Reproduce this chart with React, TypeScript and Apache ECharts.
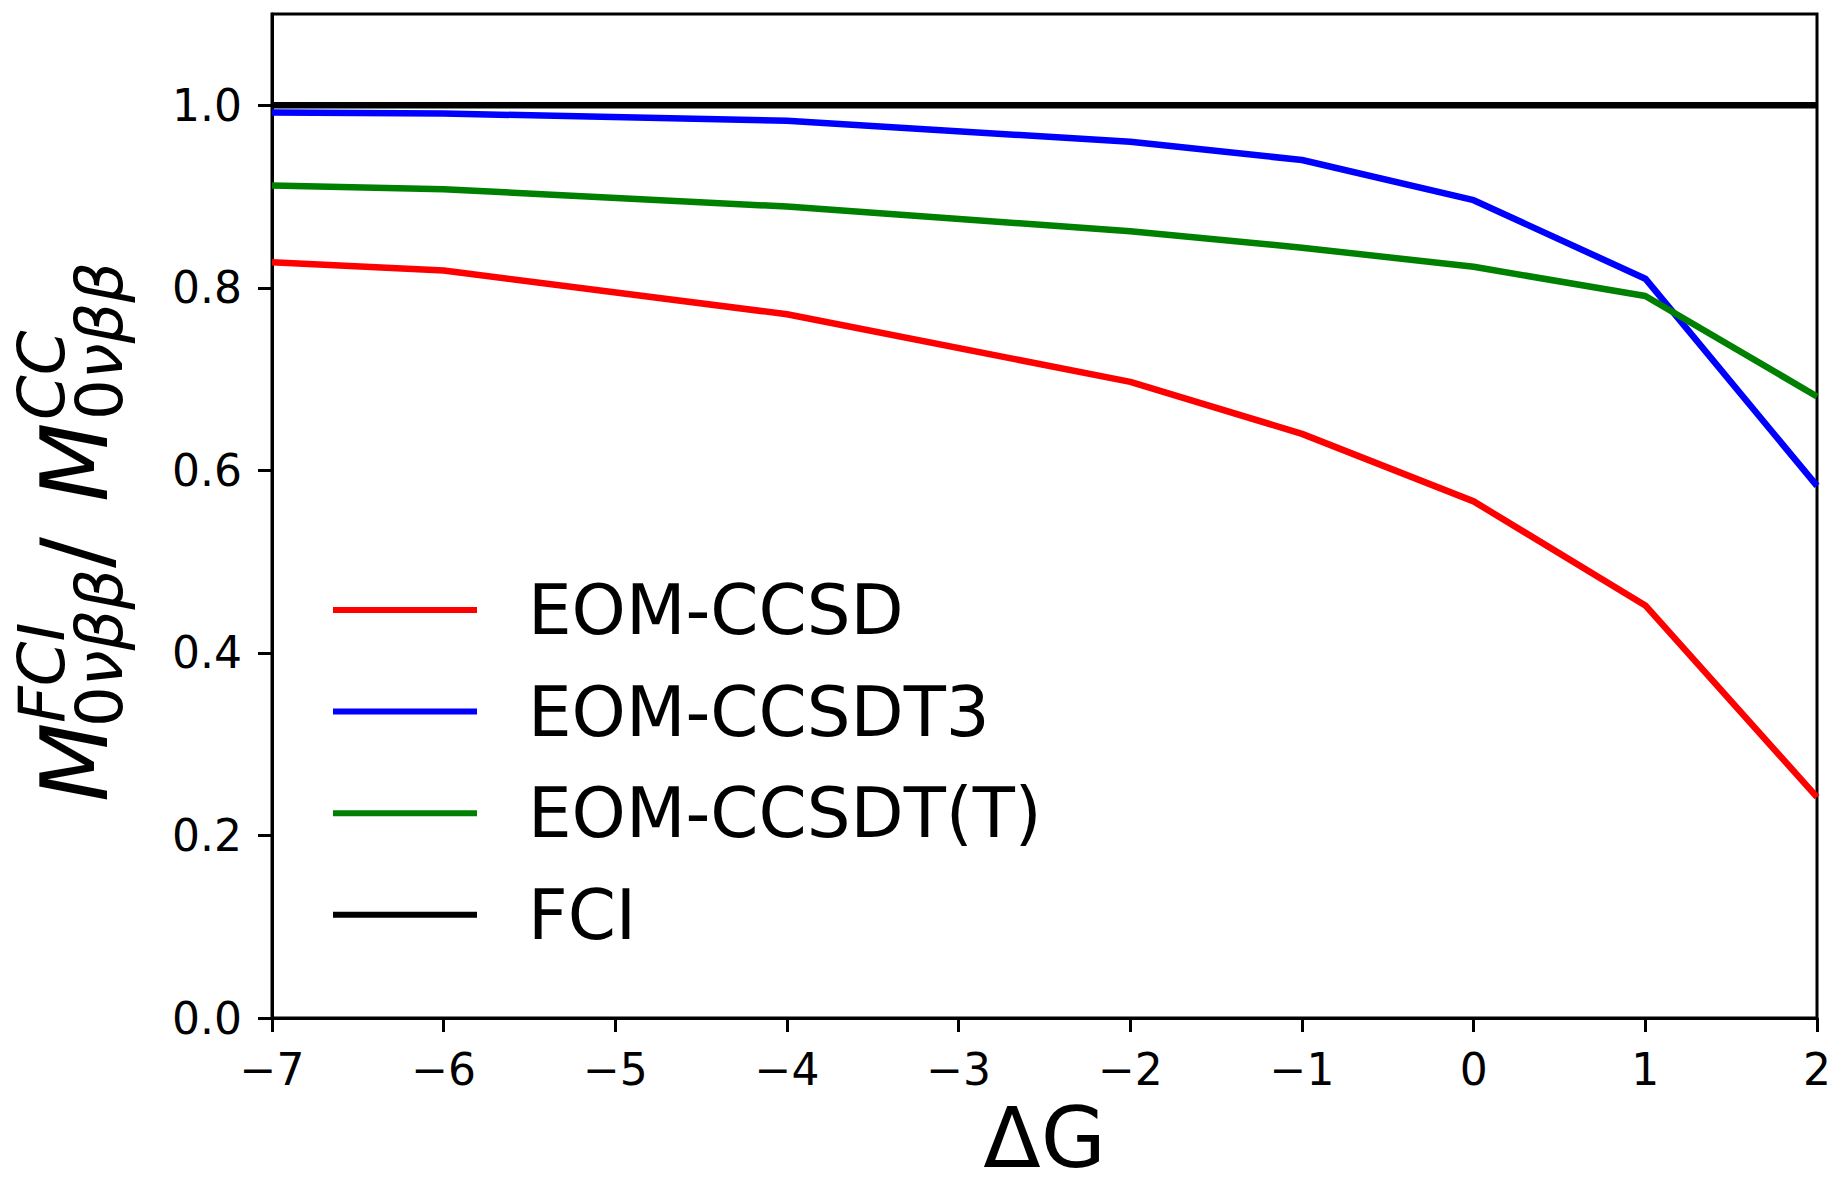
import React, { useEffect, useRef } from 'react';
import * as echarts from 'echarts';

// ---- data ----
const xValues = [-7, -6, -4, -2, -1, 0, 1, 2];
const eomCcsd = [0.828, 0.819, 0.771, 0.697, 0.64, 0.566, 0.452, 0.242];
const eomCcsdt3 = [0.992, 0.991, 0.983, 0.96, 0.94, 0.896, 0.81, 0.583];
const eomCcsdtT = [0.912, 0.908, 0.889, 0.862, 0.844, 0.823, 0.791, 0.681];
const fci = [1, 1, 1, 1, 1, 1, 1, 1];
const seriesNames = ['EOM-CCSD', 'EOM-CCSDT3', 'EOM-CCSDT(T)', 'FCI'];
const seriesValues = [eomCcsd, eomCcsdt3, eomCcsdtT, fci];
const seriesColors = ['#ff0000', '#0000ff', '#008000', '#000000'];
const yTickValues = [0, 0.2, 0.4, 0.6, 0.8, 1.0];
const xAxisName = 'ΔG';

const FONT = '"DejaVu Sans", "Noto Sans", sans-serif';
const MAIN = 92;
const SCRIPT = 64;

function rt(text: string, x: number, y: number, size: number, italic: boolean) {
  return {
    type: 'text',
    x,
    y,
    rotation: Math.PI / 2,
    silent: true,
    style: {
      text,
      fontSize: size,
      fontFamily: FONT,
      fontStyle: italic ? 'italic' : 'normal',
      fill: '#000',
      align: 'left',
      verticalAlign: 'middle',
      textAlign: 'left',
      textVerticalAlign: 'middle',
    },
  };
}

function yLabelElements() {
  const mainX = 108 - 0.35 * MAIN;
  const supX = 64 - 0.35 * SCRIPT;
  const subX = 122 - 0.35 * SCRIPT;
  const zeroW = 0.636 * SCRIPT;
  return [
    rt('M', mainX, 802, MAIN, true),
    rt('FCI', supX, 723, SCRIPT, true),
    rt('0', subX, 727, SCRIPT, false),
    rt('νββ', subX, 727 - zeroW, SCRIPT, true),
    rt('/', mainX, 568, MAIN, false),
    rt('M', mainX, 502, MAIN, true),
    rt('CC', supX, 420, SCRIPT, true),
    rt('0', subX, 420, SCRIPT, false),
    rt('νββ', subX, 420 - zeroW, SCRIPT, true),
  ];
}

function fmtX(v: number) {
  return v < 0 ? '\u2212' + Math.abs(v) : String(v);
}

export default function App() {
  const ref = useRef<HTMLDivElement>(null);
  useEffect(() => {
    if (!ref.current) return;
    const chart = echarts.init(ref.current, null, { renderer: 'svg' });
    const series = seriesNames.map((name, i) => ({
      name,
      type: 'line',
      data: xValues.map((x, j) => [x, seriesValues[i][j]]),
      symbol: 'none',
      lineStyle: { color: seriesColors[i], width: 6.5 },
      itemStyle: { color: seriesColors[i] },
      z: 2 + i,
    }));
    chart.setOption({
      animation: false,
      backgroundColor: '#ffffff',
      grid: {
        left: 272,
        right: 15,
        top: 14,
        bottom: 169,
        show: true,
        borderColor: '#000',
        borderWidth: 3,
        backgroundColor: 'transparent',
        containLabel: false,
        outerBoundsMode: 'none',
      },
      xAxis: {
        type: 'value',
        min: -7,
        max: 2,
        interval: 1,
        name: xAxisName,
        nameLocation: 'middle',
        nameGap: 78,
        nameTextStyle: { fontSize: 84, lineHeight: 70, fontFamily: FONT, color: '#000' },
        axisLine: { show: true, onZero: false, lineStyle: { color: '#000', width: 3 } },
        axisTick: { show: true, inside: false, length: 14, lineStyle: { color: '#000', width: 3 } },
        axisLabel: {
          show: true,
          margin: 29,
          fontSize: 44,
          fontFamily: FONT,
          color: '#000',
          formatter: (v: number) => fmtX(v),
        },
        splitLine: { show: false },
      },
      yAxis: {
        type: 'value',
        min: 0,
        max: 1.1,
        axisLine: { show: true, onZero: false, lineStyle: { color: '#000', width: 3 } },
        axisTick: {
          show: true,
          inside: false,
          length: 14,
          lineStyle: { color: '#000', width: 3 },
          customValues: yTickValues,
        },
        axisLabel: {
          show: true,
          margin: 30,
          fontSize: 44,
          fontFamily: FONT,
          color: '#000',
          customValues: yTickValues,
          formatter: (v: number) => v.toFixed(1),
        },
        splitLine: { show: false },
      },
      legend: {
        orient: 'vertical',
        left: 333,
        top: 575,
        padding: 0,
        icon: 'rect',
        itemWidth: 144,
        itemHeight: 6,
        itemGap: 31.6,
        data: seriesNames,
        textStyle: {
          fontSize: 69,
          fontFamily: FONT,
          color: '#000',
          lineHeight: 70,
          padding: [0, 0, 0, 46],
        },
        selectedMode: false,
      },
      graphic: yLabelElements(),
      series,
    });
    return () => chart.dispose();
  }, []);
  return (
    <div
      ref={ref}
      style={{ position: 'fixed', left: 0, top: 0, width: 1832, height: 1187, background: '#fff' }}
    />
  );
}
